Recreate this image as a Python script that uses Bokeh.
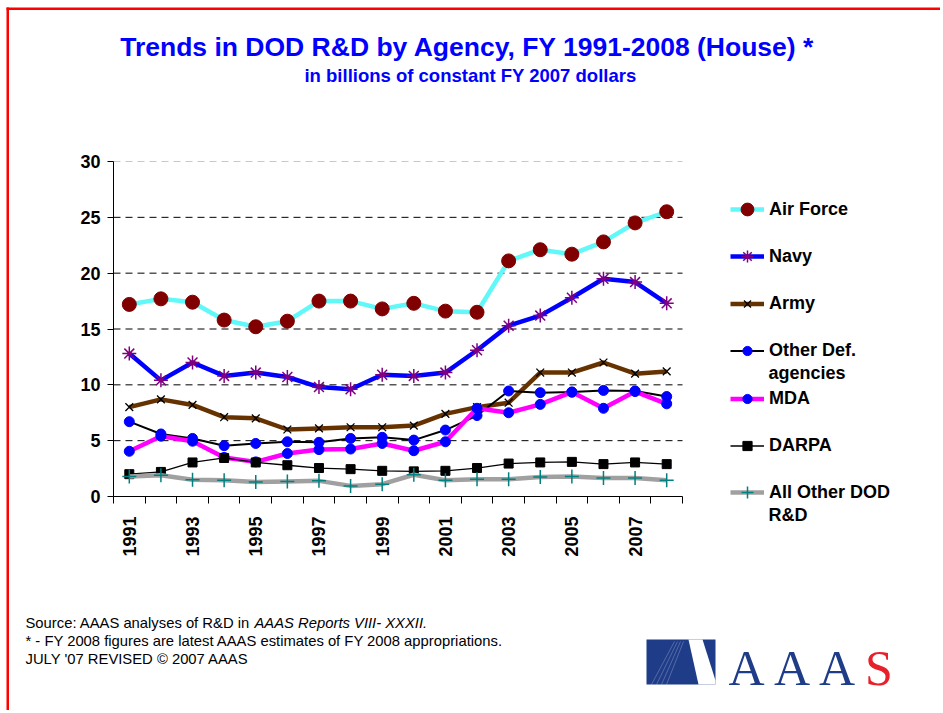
import math
from bokeh.plotting import figure
from bokeh.models import (FixedTicker, Range1d, Label, Legend, LegendItem,
                          BoxAnnotation, PolyAnnotation)
from bokeh.embed import file_html
from bokeh.resources import INLINE

# ---------------- data ----------------
years = list(range(1991, 2009))
air_force = [17.2, 17.7, 17.4, 15.8, 15.2, 15.7, 17.5, 17.5, 16.8, 17.3, 16.6, 16.5,
             21.1, 22.1, 21.7, 22.8, 24.5, 25.5]
navy = [12.8, 10.4, 12.0, 10.8, 11.1, 10.7, 9.8, 9.6, 10.9, 10.8, 11.1, 13.1,
        15.3, 16.2, 17.8, 19.5, 19.2, 17.3]
army = [8.0, 8.7, 8.2, 7.1, 7.0, 6.0, 6.1, 6.2, 6.2, 6.35, 7.4, 8.0,
        8.4, 11.1, 11.1, 12.0, 11.0, 11.2]
other_def = [6.7, 5.6, 5.2, 4.55, 4.75, 4.9, 4.85, 5.2, 5.3, 5.05, 5.95, 7.25,
             9.45, 9.3, 9.35, 9.5, 9.45, 8.95]
mda = [4.05, 5.4, 4.95, 3.5, 3.1, 3.85, 4.2, 4.25, 4.75, 4.1, 4.9, 7.9,
       7.5, 8.25, 9.35, 7.9, 9.4, 8.3]
darpa = [2.0, 2.2, 3.05, 3.45, 3.05, 2.8, 2.55, 2.45, 2.3, 2.25, 2.3, 2.55,
         2.95, 3.05, 3.1, 2.9, 3.05, 2.9]
all_other = [1.8, 1.9, 1.5, 1.45, 1.3, 1.35, 1.4, 0.95, 1.1, 1.95, 1.45, 1.55,
             1.55, 1.75, 1.8, 1.65, 1.65, 1.45]
x_tick_labels = [1991, 1993, 1995, 1997, 1999, 2001, 2003, 2005, 2007]
y_ticks = [0, 5, 10, 15, 20, 25, 30]
series_names = ["Air Force", "Navy", "Army", "Other Def.", "MDA", "DARPA",
                "All Other DOD"]
series_values = [air_force, navy, army, other_def, mda, darpa, all_other]

title_text = "Trends in DOD R&D by Agency, FY 1991-2008 (House) *"
subtitle_text = "in billions of constant FY 2007 dollars"
source_text = "Source: AAAS analyses of R&D in "
source_italic = "AAAS Reports VIII- XXXII."
note_text = "* - FY 2008 figures are latest AAAS estimates of FY 2008 appropriations."
credit_text = "JULY '07 REVISED \u00a9 2007 AAAS"

FONT = "Liberation Sans"

# series styles: line colour, line width, marker, size, fill, marker line, marker lw,
#                marker size in the legend
styles = [
    ("#60F8F8", 4.5, "circle", 14, "#800000", "#800000", 1, 13),
    ("#0000FF", 4.5, "asterisk", 14, None, "#800080", 1.5, 12),
    ("#663300", 4.5, "x", 11, None, "black", 1.3, 10),
    ("black", 2, "circle", 10, "#0000FF", "#0000FF", 1, 9),
    ("#FF00FF", 4.5, "circle", 10, "#0000FF", "#0000FF", 1, 9),
    ("black", 1.3, "square", 9, "black", "black", 1, 9),
    ("#A0A0A0", 4.5, "cross", 14, None, "#008080", 1.5, 12),
]

# ---------------- page geometry (pixels) ----------------
W, H = 940, 710
FL, FT, FR, FB = 113, 161, 682, 496      # where the plotting area sits on the page
x0, x1 = years[0] - 0.5, years[-1] + 0.5
y0, y1 = y_ticks[0], y_ticks[-1]
xpp = (FR - FL) / (x1 - x0)
ypp = (FB - FT) / (y1 - y0)

p = figure(width=W, height=H, output_backend="svg", toolbar_location=None,
           x_range=Range1d(x0 - FL / xpp, x1 + (W - FR) / xpp),
           y_range=Range1d(y0 - (H - FB) / ypp, y1 + FT / ypp),
           min_border=0)
p.outline_line_color = None
p.background_fill_color = "white"
p.border_fill_color = "white"
p.xgrid.visible = False
p.ygrid.visible = False

# y axis
yax = p.yaxis[0]
yax.fixed_location = x0
yax.bounds = (y0, y1)
yax.ticker = FixedTicker(ticks=y_ticks)
yax.major_label_text_font = FONT
yax.major_label_text_font_style = "bold"
yax.major_label_text_font_size = "18px"
yax.major_label_text_color = "black"
yax.major_tick_out = 6
yax.major_tick_in = 0
yax.minor_tick_line_color = None
yax.major_label_standoff = 7
yax.axis_line_color = "black"

# x axis: labels on odd years, tick marks between categories
xax = p.xaxis[0]
xax.fixed_location = y0
xax.bounds = (x0, x1)
bounds = [y - 0.5 for y in years] + [years[-1] + 0.5]
xax.ticker = FixedTicker(ticks=x_tick_labels, minor_ticks=bounds)
xax.major_label_orientation = math.pi / 2
xax.major_label_text_font = FONT
xax.major_label_text_font_style = "bold"
xax.major_label_text_font_size = "18px"
xax.major_label_text_color = "black"
xax.major_tick_out = 0
xax.major_tick_in = 0
xax.minor_tick_out = 7
xax.minor_tick_in = 0
xax.minor_tick_line_color = "black"
xax.major_label_standoff = 13
xax.axis_line_color = "black"

# horizontal dashed grid lines across the plotting area only
gl = y_ticks[1:-1]
p.segment(x0=[x0] * len(gl), x1=[x1] * len(gl), y0=gl, y1=gl,
          line_color="black", line_dash="7 5", line_width=1)
p.segment(x0=[x0], x1=[x1], y0=[y1], y1=[y1],
          line_color="#C8C8C8", line_dash="7 5", line_width=1)

# ---------------- series + legend ----------------
legend_rows = [209, 256, 303, 350, 398, 445, 492]   # page y of each legend row
for name, vals, st, ry in zip(series_names, series_values, styles, legend_rows):
    lc, lw, mk, ms, mfill, mline, mlw, lms = st
    r1 = p.line(years, vals, line_color=lc, line_width=lw)
    r2 = p.scatter(years, vals, marker=mk, size=ms, fill_color=mfill,
                   line_color=mline, line_width=mlw)
    gh = int(max(round(lms / 0.4), 23))   # legend marker size = 0.4 * glyph height
    leg = Legend(items=[LegendItem(label=name, renderers=[r1, r2])],
                 location=(730, H - (ry + gh / 2)), orientation="vertical",
                 glyph_width=34, glyph_height=gh, label_height=gh, spacing=0,
                 padding=0, margin=0, border_line_color=None,
                 background_fill_alpha=0, label_standoff=5,
                 label_text_font=FONT, label_text_font_style="bold",
                 label_text_font_size="18px", label_text_color="black")
    p.add_layout(leg)


def label(x, y, text, size, color="black", style="normal", align="left",
          baseline="middle", font=FONT):
    p.add_layout(Label(x=x, y=H - y, x_units="screen", y_units="screen",
                       text=text, text_font=font, text_font_size=size,
                       text_font_style=style, text_color=color,
                       text_align=align, text_baseline=baseline))


def box(l, r, t, b, color):
    p.add_layout(BoxAnnotation(left=l, right=r, top=H - t, bottom=H - b,
                               left_units="screen", right_units="screen",
                               top_units="screen", bottom_units="screen",
                               fill_color=color, fill_alpha=1, line_color=None))


def poly(xs, ys, fill=None, line=None, lw=1):
    p.add_layout(PolyAnnotation(xs=xs, ys=[H - v for v in ys],
                                xs_units="screen", ys_units="screen",
                                fill_color=fill, fill_alpha=1 if fill else 0,
                                line_color=line, line_width=lw))


label(768, 372, "agencies", "18px", style="bold")
label(768, 514, "R&D", "18px", style="bold")

# titles
label(467, 46, title_text, "26.5px", color="#0000FF", style="bold", align="center")
label(470, 75, subtitle_text, "18.5px", color="#0000FF", style="bold", align="center")

# footer
label(25, 622, source_text, "14.8px")
label(254, 622, source_italic, "14.8px", style="italic")
label(25, 640, note_text, "14.8px")
label(25, 658, credit_text, "14.8px")

# red page border (top and left)
box(6, W, 7, 9.5, "#FF0000")
box(6, 8.5, 7, H, "#FF0000")

# AAAS logo
LOGO_BLUE = "#1F3C88"
box(646, 715, 639, 684, LOGO_BLUE)
poly([688, 702, 715, 715, 698], [639, 639, 680, 684, 684], fill="white")
for tx, bx in [(674, 651), (677, 656), (680, 661), (683, 666)]:
    poly([tx, bx], [641, 684], line="white", lw=0.8)
for cx, ch, col in [(746, "A", LOGO_BLUE), (791.5, "A", LOGO_BLUE),
                    (836.5, "A", LOGO_BLUE), (878.5, "S", "#E8202A")]:
    label(cx, 667, ch, "50px", color=col, align="center", baseline="middle",
          font="Liberation Serif")

open("out.html", "w").write(file_html(p, INLINE))
